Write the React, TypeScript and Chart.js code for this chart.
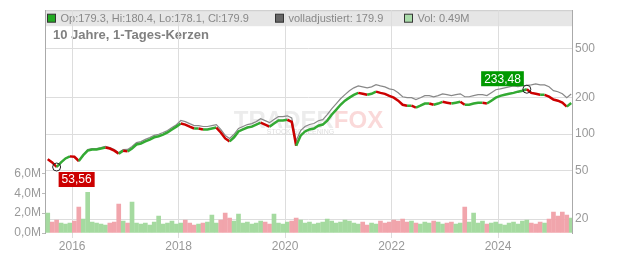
import React, { useEffect, useRef } from "react";
import { Chart, registerables } from "chart.js";

Chart.register(...registerables);

// ---- data (monthly) ----
const START_YEAR = 2015;
const START_MONTH = 7; // July 2015

const closePrices = [
  62, 58.5, 53.56, 58.5, 63, 65.5, 65, 60, 67, 73,
  74.5, 74.5, 76, 77.6, 76, 73, 69, 73, 72, 76,
  82, 83.5, 87, 90, 94, 96, 99, 103, 109, 115,
  122, 119.6, 115, 111, 111, 109, 109, 111, 113, 103,
  92, 87, 94, 105, 109, 113, 115, 119.6, 124, 119.6,
  115, 122, 129, 129, 131, 126, 80, 97, 105, 109,
  111, 117, 119.6, 129, 144, 158, 174, 188, 199, 210,
  218, 214, 210, 214, 223, 218, 214, 206, 199, 188,
  174, 171, 171, 165, 171, 178, 178, 174, 178, 184,
  181, 178, 181, 184, 174, 174, 178, 181, 181, 178,
  188, 199, 206, 210, 214, 218, 223, 227, 233.48, 218,
  214, 210, 210, 203, 192, 188, 181, 168, 179.9,
];

const adjustedPrices = [
  62, 58.5, 53.6, 58.5, 63, 65.5, 65, 60, 67, 74.4,
  75.9, 75.9, 77.4, 79.1, 77.4, 74.4, 70.3, 74.4, 74.7, 78.9,
  85.1, 86.7, 90.3, 93.4, 97.6, 99.6, 102.8, 106.9, 113.1, 119.4,
  129.1, 126.5, 121.7, 117.4, 117.4, 115.3, 115.3, 117.4, 119.6, 109,
  97.3, 92, 99.5, 111.1, 115.3, 119.6, 121.7, 126.5, 133.7, 128.9,
  124, 131.5, 139.1, 139.1, 141.2, 135.8, 87.9, 106.6, 115.4, 119.8,
  122, 128.6, 131.4, 144.5, 161.3, 177, 194.9, 210.6, 227.1, 239.6,
  248.7, 244.2, 239.6, 244.2, 254.4, 248.7, 244.2, 235, 231.4, 218.6,
  202.4, 198.9, 198.9, 191.9, 198.9, 207, 207, 202.4, 207, 214,
  210.5, 207, 210.5, 214, 202.4, 202.4, 207, 210.5, 210.5, 207,
  218.6, 231.4, 235, 239.6, 244.2, 248.7, 245.1, 249.5, 251.7, 253.5,
  258.3, 253.5, 253.5, 245, 227.5, 222.8, 214.5, 199.1, 213.2,
];

// volume in millions
const volumeM = [
  2.0, 1.1, 1.3, 1.0, 0.9, 1.0, 1.2, 2.6, 1.4, 4.1,
  1.1, 1.0, 0.9, 0.8, 1.0, 1.1, 2.9, 1.2, 1.0, 3.1,
  1.0, 0.9, 1.0, 0.8, 1.1, 1.7, 0.9, 1.0, 1.2, 0.9,
  1.0, 1.3, 1.0, 0.8, 0.9, 1.0, 1.1, 1.8, 1.0, 1.3,
  2.0, 1.5, 1.2, 1.9, 1.0, 1.1, 0.9, 1.0, 1.2, 1.1,
  0.9, 1.9, 1.0, 0.9, 1.1, 1.2, 1.5, 1.3, 1.0, 1.1,
  0.9, 1.0, 1.1, 1.4, 1.2, 1.0, 1.1, 1.3, 1.2, 1.0,
  0.9, 1.1, 0.8, 1.0, 0.9, 1.2, 1.0, 1.1, 1.3, 1.2,
  1.4, 1.1, 1.2, 1.0, 0.9, 1.1, 1.0, 1.2, 1.1, 0.9,
  1.0, 1.1, 0.9, 1.0, 2.6, 1.1, 2.0, 1.0, 1.2, 0.9,
  1.0, 1.1, 0.9, 0.8, 1.0, 1.1, 0.9, 1.2, 1.3, 1.0,
  0.9, 1.1, 1.0, 1.4, 2.1, 1.7, 2.1, 1.8, 1.5,
];

const priceTicks = [20, 50, 100, 200, 500];
const volumeTicks = [0, 2, 4, 6];
const yearTicks = [2016, 2018, 2020, 2022, 2024];
const X_MIN = 2015.49;
const X_MAX = 2025.39;
const PRICE_MIN = 15.36;
const PRICE_MAX = 1042;
const VOL_MAX = 22.4;

const TITLE = "10 Jahre, 1-Tages-Kerzen";
const legendLabels = ["Op:179.3, Hi:180.4, Lo:178.1, Cl:179.9", "volladjustiert: 179.9", "Vol: 0.49M"];
const legendColors = ["#22aa22", "#666666", "#aadcaa"];

const monthTimes = closePrices.map((_, i) => START_YEAR + (START_MONTH - 1 + i + 0.5) / 12);

const FONT = "'Liberation Sans', Arial, sans-serif";
const GREEN = "#33aa33";
const RED = "#cc0000";
const VOL_GREEN = "rgba(160,216,155,0.95)";
const VOL_RED = "rgba(240,160,168,0.95)";
const TICK_COLOR = "#999999";
const GRID = "#dddddd";
const LEGEND_OFFSETS = [2, 230, 359];

export default function App() {
  const ref = useRef<HTMLCanvasElement>(null);

  useEffect(() => {
    document.body.style.margin = "0";
    const canvas = ref.current!;
    const isUp = (i: number) => i === 0 || closePrices[i] >= closePrices[i - 1];

    const bandPlugin = {
      id: "band",
      beforeDraw(chart: any) {
        const { ctx, chartArea } = chart;
        ctx.save();
        ctx.fillStyle = "#e6e6e6";
        ctx.fillRect(chartArea.left, chartArea.top, chartArea.right - chartArea.left, 16);
        ctx.strokeStyle = "#cccccc";
        ctx.lineWidth = 1;
        ctx.beginPath();
        ctx.moveTo(chartArea.left, chartArea.top + 0.5);
        ctx.lineTo(chartArea.right, chartArea.top + 0.5);
        ctx.stroke();
        ctx.font = `11px ${FONT}`;
        ctx.textBaseline = "middle";
        const cy = chartArea.top + 8;
        legendLabels.forEach((lab, i) => {
          const x = chartArea.left + LEGEND_OFFSETS[i] + 0.5;
          ctx.fillStyle = legendColors[i];
          ctx.fillRect(x, cy - 4, 8, 8);
          ctx.strokeStyle = "#333";
          ctx.strokeRect(x, cy - 4, 8, 8);
          ctx.fillStyle = "#888888";
          ctx.fillText(lab, x + 13, cy + 0.5);
        });
        ctx.font = `bold 13px ${FONT}`;
        ctx.fillStyle = "#808080";
        ctx.fillText(TITLE, chartArea.left + 8, chartArea.top + 25);
        ctx.restore();
      },
    };

    const watermarkPlugin = {
      id: "watermark",
      beforeDatasetsDraw(chart: any) {
        const { ctx, chartArea } = chart;
        const cx = (chartArea.left + chartArea.right) / 2;
        const cy = (chartArea.top + chartArea.bottom) / 2;
        ctx.save();
        ctx.font = `bold 24px ${FONT}`;
        ctx.textBaseline = "alphabetic";
        const w1 = ctx.measureText("TRADER").width;
        const w2 = ctx.measureText("FOX").width;
        const x0 = cx - (w1 + w2) / 2;
        ctx.fillStyle = "rgba(200,200,200,0.35)";
        ctx.fillText("TRADER", x0, cy + 6);
        ctx.fillStyle = "rgba(238,120,120,0.28)";
        ctx.fillText("FOX", x0 + w1, cy + 6);
        ctx.font = `7px ${FONT}`;
        ctx.fillStyle = "rgba(170,170,170,0.4)";
        ctx.textAlign = "center";
        ctx.fillText("STOCK SCREENING", cx - 8, cy + 12);
        ctx.restore();
      },
    };

    const markerPlugin = {
      id: "markers",
      afterDatasetsDraw(chart: any) {
        const { ctx } = chart;
        const xs = chart.scales.x;
        const ys = chart.scales.yPrice;
        let iMin = 0;
        let iMax = 0;
        closePrices.forEach((v, i) => {
          if (v < closePrices[iMin]) iMin = i;
          if (v > closePrices[iMax]) iMax = i;
        });
        const draw = (i: number, color: string, above: boolean) => {
          const px = xs.getPixelForValue(monthTimes[i]);
          const py = ys.getPixelForValue(closePrices[i]);
          ctx.save();
          ctx.beginPath();
          ctx.arc(px, py, 4, 0, Math.PI * 2);
          ctx.strokeStyle = "#222";
          ctx.lineWidth = 1;
          ctx.stroke();
          const text = closePrices[i].toFixed(2).replace(".", ",");
          ctx.font = `12px ${FONT}`;
          const w = ctx.measureText(text).width + 6;
          const h = 15;
          const bx = above ? px - 3 - w : px + 2;
          const by = above ? py - 3 - h : py + 5;
          ctx.fillStyle = color;
          ctx.fillRect(bx, by, w, h);
          ctx.fillStyle = "#ffffff";
          ctx.textBaseline = "middle";
          ctx.textAlign = "center";
          ctx.fillText(text, bx + w / 2, by + h / 2 + 0.5);
          ctx.restore();
        };
        draw(iMin, "#cc0000", false);
        draw(iMax, "#009900", true);
      },
    };

    const chart = new Chart(canvas, {
      type: "bar",
      data: {
        datasets: [
          {
            type: "line",
            label: "Kurs",
            data: monthTimes.map((t, i) => ({ x: t, y: closePrices[i] })),
            yAxisID: "yPrice",
            borderColor: RED,
            borderWidth: 2.5,
            pointRadius: 0,
            tension: 0,
            segment: {
              borderColor: (c: any) => (c.p1.parsed.y >= c.p0.parsed.y ? GREEN : RED),
            },
            order: 0,
          } as any,
          {
            type: "line",
            label: "volladjustiert",
            data: monthTimes.map((t, i) => ({ x: t, y: adjustedPrices[i] })),
            yAxisID: "yPrice",
            borderColor: "#888888",
            borderWidth: 1.2,
            pointRadius: 0,
            tension: 0,
            order: 1,
          } as any,
          {
            type: "bar",
            label: "Vol",
            data: monthTimes.map((t, i) => ({ x: t, y: volumeM[i] })),
            yAxisID: "yVol",
            backgroundColor: volumeM.map((_, i) => (isUp(i) ? VOL_GREEN : VOL_RED)),
            barThickness: 4,
            order: 2,
          } as any,
        ],
      },
      options: {
        animation: false,
        responsive: false,
        devicePixelRatio: 1,
        layout: { padding: { top: 8, left: 0, right: 0, bottom: 0 } },
        plugins: { legend: { display: false }, tooltip: { enabled: false } },
        scales: {
          x: {
            type: "linear",
            min: X_MIN,
            max: X_MAX,
            offset: false,
            afterBuildTicks: (s: any) => {
              s.ticks = yearTicks.map((v) => ({ value: v }));
            },
            afterFit: (s: any) => {
              s.height = 20;
            },
            ticks: {
              callback: (v: any) => String(v),
              color: TICK_COLOR,
              font: { size: 12, family: FONT },
              padding: 1,
              maxRotation: 0,
              autoSkip: false,
            },
            grid: { color: GRID, tickLength: 5, offset: false, drawTicks: true },
            border: { display: false },
          } as any,
          yPrice: {
            type: "logarithmic",
            position: "right",
            min: PRICE_MIN,
            max: PRICE_MAX,
            afterBuildTicks: (s: any) => {
              s.ticks = priceTicks.map((v) => ({ value: v }));
            },
            afterFit: (s: any) => {
              s.width = 60;
            },
            ticks: {
              callback: (v: any) => String(v),
              color: TICK_COLOR,
              font: { size: 12, family: FONT },
              padding: 3,
              autoSkip: false,
            },
            grid: { color: GRID, drawTicks: false },
            border: { display: true, color: "#aaaaaa" },
          } as any,
          yVol: {
            type: "linear",
            position: "left",
            min: 0,
            max: VOL_MAX,
            afterBuildTicks: (s: any) => {
              s.ticks = volumeTicks.map((v) => ({ value: v }));
            },
            afterFit: (s: any) => {
              s.width = 45;
            },
            ticks: {
              callback: (v: any) => Number(v).toFixed(1).replace(".", ",") + "M",
              color: TICK_COLOR,
              font: { size: 12, family: FONT },
              padding: 1,
              autoSkip: false,
            },
            grid: { drawOnChartArea: false, drawTicks: true, tickLength: 3, color: "#bbbbbb" },
            border: { display: true, color: "#aaaaaa" },
          } as any,
        },
      },
      plugins: [bandPlugin, watermarkPlugin, markerPlugin],
    });

    return () => chart.destroy();
  }, []);

  return (
    <div style={{ width: 632, height: 253 }}>
      <canvas ref={ref} width={632} height={253} style={{ display: "block" }} />
    </div>
  );
}
